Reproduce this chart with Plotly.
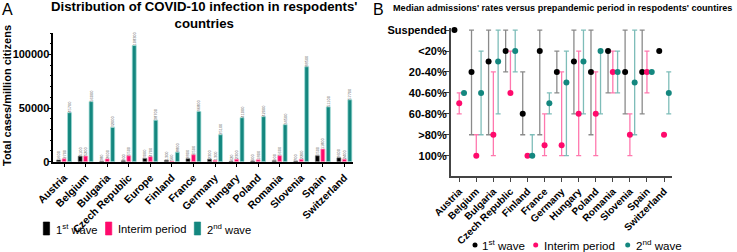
import plotly.graph_objects as go

# ---------------- Panel A data ----------------
countries_a = ["Austria", "Belgium", "Bulgaria", "Czech Republic", "Europe", "Finland",
               "France", "Germany", "Hungary", "Poland", "Romania", "Slovenia", "Spain",
               "Switzerland"]
wave1_cases = [1600, 5100, 380, 800, 3000, 1300, 2800, 2300, 420, 600, 900, 700, 5500, 3600]
interim_cases = [2700, 5200, 2600, 5500, 4700, 560, 6500, 1300, 2300, 1800, 5600, 2200, 11800, 2400]
wave2_cases = [45700, 56000, 32000, 108300, 38700, 8800, 46800, 25100, 41000, 42000, 34500,
               88500, 51100, 57700]

# ---------------- Panel B data ----------------
countries_b = ["Austria", "Belgium", "Bulgaria", "Czech Republic", "Finland", "France",
               "Germany", "Hungary", "Poland", "Romania", "Slovenia", "Spain", "Switzerland"]
levels = ["Suspended", "<20%", "20-40%", "40-60%", "60-80%", ">80%", "100%"]

wave1_med = [0, 2, 1.5, 1, 4, 1, 2, 1.5, 2, 1, 2, 2, 1]
wave1_lo = [None, 0, 0, 0, 2, 0, 1, 0, 0, 1, 0, 0, None]
wave1_hi = [None, 5, 5, 2, 5, 5, 3, 4, 5, 3, 4, 4, None]

interim_med = [3.5, 6, 5, 3, 6, 5.5, 5.5, 4, 4, 2, 5, 2, 5]
interim_lo = [3, 5, 2, 1, None, 4, 2, 1, 2, 1, 4, 1, None]
interim_hi = [4, 6, 6, 3, None, 6, 6, 6, 6, 3, 6, 3, None]

wave2_med = [3, 3, 1.5, 1, 6, 3.5, 2.5, 1.5, 1, 2, 2.5, 2, 3]
wave2_lo = [None, 1, 0, 0, 5, 3, 1, 0, 1, 1, 0, None, 2]
wave2_hi = [None, 5, 4, 2, 6, 4, 6, 4, 4, 3, 5, None, 4]

series_names = ["1<sup>st</sup> wave", "Interim period", "2<sup>nd</sup> wave"]

BLACK = "#000000"
PINK = "#FF0A6C"
TEAL = "#14877F"
FONT = "Liberation Sans, Arial, sans-serif"

W, H = 737, 252


def px_x(v):
    return v / W


def px_y(v):
    return 1 - v / H


def err(med, lo, hi):
    plus = [None if h is None else h - m for m, h in zip(med, hi)]
    minus = [None if l is None else m - l for m, l in zip(med, lo)]
    return plus, minus


fig = go.Figure()

# Panel A bars
for name, vals, col, edge in [
    (series_names[0], wave1_cases, BLACK, "rgba(120,120,120,0.8)"),
    (series_names[1], interim_cases, PINK, "rgba(255,160,190,0.9)"),
    (series_names[2], wave2_cases, TEAL, "rgba(160,220,215,0.9)"),
]:
    fig.add_trace(go.Bar(
        x=countries_a, y=vals, name=name, marker=dict(color=col, line=dict(color=edge, width=0.8)),
        text=[str(v) for v in vals], textposition="outside", textangle=-90,
        textfont=dict(size=4, color="#666", family=FONT), constraintext="none",
        cliponaxis=False, xaxis="x", yaxis="y", showlegend=False,
    ))

# Panel B scatter with error bars
for name, med, lo, hi, col, ecol in [
    (series_names[0], wave1_med, wave1_lo, wave1_hi, BLACK, "rgba(60,60,60,0.6)"),
    (series_names[1], interim_med, interim_lo, interim_hi, PINK, "rgba(255,10,108,0.55)"),
    (series_names[2], wave2_med, wave2_lo, wave2_hi, TEAL, "rgba(20,135,127,0.55)"),
]:
    plus, minus = err(med, lo, hi)
    fig.add_trace(go.Scatter(
        x=countries_b, y=med, name=name, mode="markers",
        marker=dict(color=col, size=6),
        error_y=dict(type="data", symmetric=False, array=plus, arrayminus=minus,
                     color=ecol, thickness=1.3, width=2.5),
        cliponaxis=False, xaxis="x2", yaxis="y2", showlegend=False,
    ))

# Legend keys (drawn as decorations, not data)
shapes = []
annotations = []
legA = [(43.3, 53.5, BLACK, series_names[0]), (105.5, 115.5, PINK, series_names[1]),
        (194.3, 204.5, TEAL, series_names[2])]
for sx, tx, col, name in legA:
    shapes.append(dict(type="rect", xref="paper", yref="paper", x0=px_x(sx), x1=px_x(sx + 6.3),
                       y0=px_y(235), y1=px_y(222), fillcolor=col, line=dict(width=0.6, color=col)))
    annotations.append(dict(text=name, x=px_x(tx), y=px_y(228.5), xref="paper", yref="paper",
                            xanchor="left", yanchor="middle", showarrow=False,
                            font=dict(family=FONT, size=11.2, color="black")))
legB = [(475, 480, BLACK, series_names[0]), (535.7, 541.5, PINK, series_names[1]),
        (627.7, 634, TEAL, series_names[2])]
for cx, tx, col, name in legB:
    shapes.append(dict(type="circle", xref="paper", yref="paper", x0=px_x(cx - 2.5), x1=px_x(cx + 2.5),
                       y0=px_y(247.5), y1=px_y(242.5), fillcolor=col, line=dict(width=0)))
    annotations.append(dict(text=name, x=px_x(tx), y=px_y(245), xref="paper", yref="paper",
                            xanchor="left", yanchor="middle", showarrow=False,
                            font=dict(family=FONT, size=11.6, color="black")))

annotations += [
    dict(text="A", x=px_x(0), y=px_y(10), xref="paper", yref="paper", xanchor="left",
         yanchor="middle", showarrow=False, font=dict(family=FONT, size=16, color="black")),
    dict(text="B", x=px_x(371), y=px_y(10), xref="paper", yref="paper", xanchor="left",
         yanchor="middle", showarrow=False, font=dict(family=FONT, size=16, color="black")),
    dict(text="<b>Distribution of COVID-10 infection in respodents'<br>countries</b>",
         x=px_x(204), y=px_y(15), xref="paper", yref="paper", xanchor="center",
         yanchor="middle", showarrow=False,
         font=dict(family=FONT, size=13.2, color="black")),
    dict(text="<b>Median admissions' rates versus prepandemic period in respodents' countires</b>",
         x=px_x(391), y=px_y(8), xref="paper", yref="paper", xanchor="left",
         yanchor="middle", showarrow=False,
         font=dict(family=FONT, size=9.1, color="black")),
    dict(text="<b>Total cases/million citizens</b>", textangle=-90,
         x=px_x(7), y=px_y(96), xref="paper", yref="paper", xanchor="center",
         yanchor="middle", showarrow=False,
         font=dict(family=FONT, size=11, color="black")),
]

fig.update_layout(
    width=W, height=H, margin=dict(l=0, r=0, t=0, b=0, autoexpand=False),
    paper_bgcolor="white", plot_bgcolor="white",
    font=dict(family=FONT, color="black"),
    showlegend=False,
    barmode="group", bargap=0.24, bargroupgap=0.27,
    scattermode="group", scattergap=0.16,
    xaxis=dict(domain=[px_x(53.3), px_x(353)], anchor="y", type="category",
               range=[-0.5, 13.4], showline=True, linecolor="black", linewidth=1.5,
               ticks="outside", ticklen=4, tickcolor="black", tickangle=-45,
               tickfont=dict(family=FONT, size=10.5, color="black", weight="bold"),
               showgrid=False, zeroline=False, automargin=False),
    yaxis=dict(domain=[px_y(161.7), px_y(33)], anchor="x", range=[0, 120000],
               tickvals=[0, 50000, 100000], tickformat="d",
               showline=True, linecolor="black", linewidth=1.5,
               ticks="outside", ticklen=4, tickcolor="black", ticklabelstandoff=-4,
               minor=dict(ticks="outside", ticklen=2, dtick=10000, tickcolor="black", showgrid=False),
               tickfont=dict(family=FONT, size=11, color="black", weight="bold"),
               showgrid=False, zeroline=False, automargin=False),
    xaxis2=dict(domain=[px_x(450.7), px_x(671.7)], anchor="y2", type="category",
                range=[-0.5, 12.45], showline=True, linecolor="#444", linewidth=1.5,
                ticks="outside", ticklen=4, tickcolor="#444", tickangle=-45,
                tickfont=dict(family=FONT, size=10, color="black", weight="bold"),
                showgrid=False, zeroline=False, automargin=False),
    yaxis2=dict(domain=[px_y(176), px_y(28)], anchor="x2", range=[6.97, -0.1],
                tickvals=list(range(len(levels))), ticktext=levels,
                showline=True, linecolor="#444", linewidth=1.5,
                ticks="outside", ticklen=4, tickcolor="#444", ticklabelstandoff=-4,
                tickfont=dict(family=FONT, size=11, color="black", weight="bold"),
                showgrid=False, zeroline=False, automargin=False),
    shapes=shapes,
    annotations=annotations,
)

fig.write_html("out.html", config={"displayModeBar": False},
               post_script="document.body.style.margin='0';document.body.style.padding='0';")
